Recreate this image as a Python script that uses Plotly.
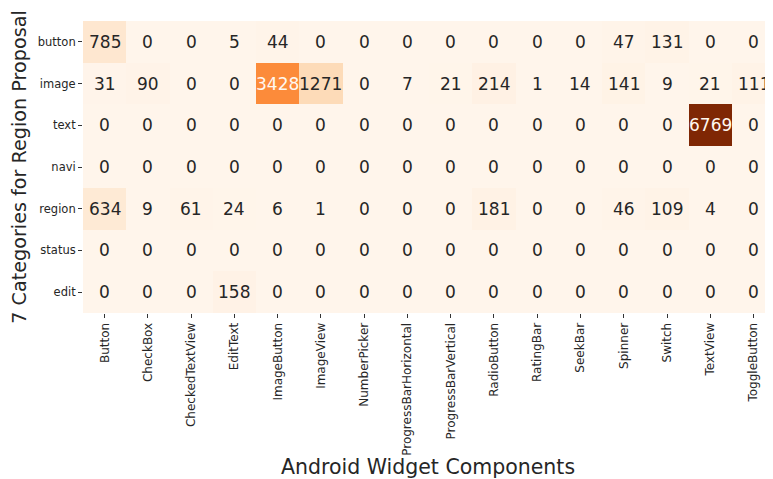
import plotly.graph_objects as go

rows = ["button", "image", "text", "navi", "region", "status", "edit"]
cols = ["Button", "CheckBox", "CheckedTextView", "EditText", "ImageButton", "ImageView",
        "NumberPicker", "ProgressBarHorizontal", "ProgressBarVertical", "RadioButton",
        "RatingBar", "SeekBar", "Spinner", "Switch", "TextView", "ToggleButton"]

button = [785, 0, 0, 5, 44, 0, 0, 0, 0, 0, 0, 0, 47, 131, 0, 0]
image = [31, 90, 0, 0, 3428, 1271, 0, 7, 21, 214, 1, 14, 141, 9, 21, 111]
text = [0, 0, 0, 0, 0, 0, 0, 0, 0, 0, 0, 0, 0, 0, 6769, 0]
navi = [0] * 16
region = [634, 9, 61, 24, 6, 1, 0, 0, 0, 181, 0, 0, 46, 109, 4, 0]
status = [0] * 16
edit = [0, 0, 0, 158, 0, 0, 0, 0, 0, 0, 0, 0, 0, 0, 0, 0]

z = [button, image, text, navi, region, status, edit]

oranges = [
    [0.0, "#fff5eb"], [0.125, "#fee6ce"], [0.25, "#fdd0a2"], [0.375, "#fdae6b"],
    [0.5, "#fd8d3c"], [0.625, "#f16913"], [0.75, "#d94801"], [0.875, "#a63603"],
    [1.0, "#7f2704"],
]

zmax = max(max(r) for r in z)

fig = go.Figure(go.Heatmap(
    z=z, x=cols, y=rows, colorscale=oranges, zmin=0, zmax=zmax,
    showscale=False, xgap=0, ygap=0, hoverinfo="skip",
))

annotations = []
for i, r in enumerate(rows):
    for j, c in enumerate(cols):
        v = z[i][j]
        color = "#fff8f0" if v / zmax > 0.45 else "#262626"
        annotations.append(dict(x=c, y=r, text=str(v), showarrow=False,
                                font=dict(size=17, color=color, family="DejaVu Sans")))

fig.update_layout(
    width=765, height=471,
    margin=dict(l=75, r=0, t=13, b=166),
    paper_bgcolor="white", plot_bgcolor="white",
    font=dict(family="DejaVu Sans", color="#262626"),
    annotations=annotations,
    xaxis=dict(
        range=[-0.5, 15.45], tickangle=-90, ticks="outside", ticklen=4, tickwidth=1,
        tickcolor="#333333", tickfont=dict(size=12), showgrid=False, zeroline=False,
        automargin=False,
        title=dict(text="Android Widget Components", font=dict(size=20.5), standoff=6),
    ),
    yaxis=dict(
        autorange="reversed", ticks="outside", ticklen=4, tickwidth=1,
        tickcolor="#333333", tickfont=dict(size=11.5), showgrid=False, zeroline=False,
        automargin=False,
        title=dict(text="7 Categories for Region Proposal", font=dict(size=19.2), standoff=8),
    ),
)

fig.write_html("out.html")
